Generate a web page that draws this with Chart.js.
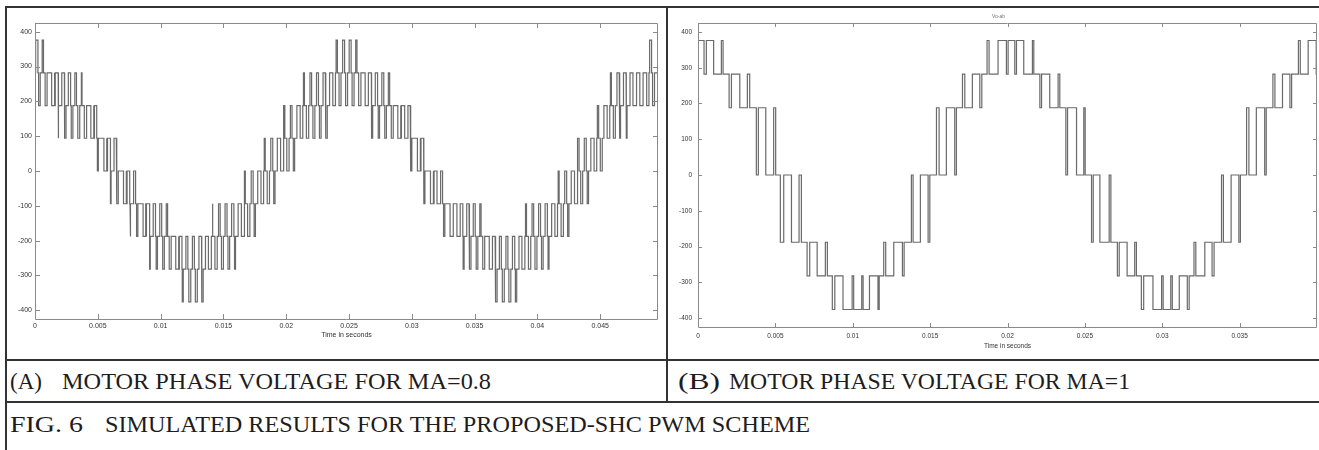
<!DOCTYPE html>
<html>
<head>
<meta charset="utf-8">
<script src="https://cdn.jsdelivr.net/npm/chart.js@4.4.0/dist/chart.umd.min.js"></script>
<style>
html,body{margin:0;padding:0;background:#fff;}
body{width:1319px;height:450px;position:relative;overflow:hidden;}
.ln{position:absolute;background:#333;}
.cap{position:absolute;white-space:nowrap;font-family:"Liberation Serif","Times New Roman",serif;font-size:24px;line-height:1;color:#1e1c1d;transform-origin:0 50%;}
#cA{position:absolute;left:0;top:0;}
#cB{position:absolute;left:668px;top:0;}
#tB{position:absolute;left:992px;top:13px;font-family:"Liberation Sans",Arial,sans-serif;font-size:5px;color:#777;white-space:nowrap;}
</style>
</head>
<body>
<canvas id="cA" width="666" height="356"></canvas>
<canvas id="cB" width="651" height="360"></canvas>
<div id="tB">Vo-ab</div>

<div class="ln" style="left:5px;top:6px;width:1314px;height:2px;"></div>
<div class="ln" style="left:5px;top:6px;width:2px;height:444px;"></div>
<div class="ln" style="left:666px;top:6px;width:2px;height:396px;"></div>
<div class="ln" style="left:5px;top:359px;width:1314px;height:2px;"></div>
<div class="ln" style="left:5px;top:401px;width:1314px;height:2px;"></div>

<div class="cap" data-x="10" data-w="32" data-cy="381">(A)</div>
<div class="cap" data-x="62" data-w="429" data-cy="381">MOTOR PHASE VOLTAGE FOR MA=0.8</div>
<div class="cap" data-x="678" data-w="42" data-cy="381">(B)</div>
<div class="cap" data-x="729" data-w="401" data-cy="381">MOTOR PHASE VOLTAGE FOR MA=1</div>
<div class="cap" data-x="10" data-w="73" data-cy="424">FIG. 6</div>
<div class="cap" data-x="105" data-w="705" data-cy="424">SIMULATED RESULTS FOR THE PROPOSED-SHC PWM SCHEME</div>

<script>
// ---------- tick labels ----------
const aXTickVals = [0, 0.005, 0.01, 0.015, 0.02, 0.025, 0.03, 0.035, 0.04, 0.045];
const aXTickLabels = ['0', '0.005', '0.01', '0.015', '0.02', '0.025', '0.03', '0.035', '0.04', '0.045'];
const bXTickVals = [0, 0.005, 0.01, 0.015, 0.02, 0.025, 0.03, 0.035];
const bXTickLabels = ['0', '0.005', '0.01', '0.015', '0.02', '0.025', '0.03', '0.035'];
const yTickVals = [-400, -300, -200, -100, 0, 100, 200, 300, 400];
const yTickLabels = ['-400', '-300', '-200', '-100', '0', '100', '200', '300', '400'];

// ---------- voltage level step (V) ----------
const levelStepV = 94;

// ---------- panel A (MA = 0.8): per carrier slot ----------
const aCarrierMs = 0.52;
// mid level of each slot (in steps of 94 V)
const aMid = [
  3, 3, 3, 2, 2, 2, 2, 2, 2, 1,
  1, 0, 0, 0, -1, -1, -1, -2, -2, -2,
  -2, -2, -3, -3, -3, -3, -3, -2, -2, -2,
  -2, -2, -1, -1, -1, 0, 0, 0, 1, 1,
  1, 2, 2, 2, 2, 2, 3, 3, 3, 3,
  3, 2, 2, 2, 2, 2, 1, 1, 1, 0,
  0, -1, -1, -1, -2, -2, -2, -2, -2, -2,
  -3, -3, -3, -3, -3, -2, -2, -2, -2, -2,
  -1, -1, -1, 0, 0, 0, 1, 1, 2, 2,
  2, 2, 2, 2, 3, 3
];
// width (fraction of slot) of the pulse one level up
const aUp = [
  .35, .2, 0, .45, .4, .35, .25, .1, 0, .35,
  0, .45, .35, 0, .4, .3, 0, .45, .35, .3,
  .2, 0, .4, .3, .3, .4, .45, .15, .25, .3,
  .35, .5, .1, .3, .5, .15, .3, .5, .15, .25,
  .5, .15, .25, .3, .35, .5, .2, .3, .3, .2,
  0, .4, .35, .3, .2, 0, .5, .35, 0, .4,
  0, .45, .3, 0, .5, .4, .35, .3, .2, 0,
  .35, .3, .3, .35, .45, .15, .25, .3, .35, .5,
  .15, .3, .5, .2, .3, .5, .2, .5, .15, .35,
  .4, .45, .5, .55, .3, 0
];
// width (fraction of slot) of the pulse one level down
const aDown = [
  .25, .3, .45, .1, .2, .25, .3, .35, .45, .15,
  .4, .1, .2, .4, .1, .2, .4, .1, .2, .25,
  .3, .45, .15, .3, .3, .2, 0, .35, .3, .25,
  .15, 0, .35, .2, 0, .35, .2, 0, .35, .2,
  0, .35, .3, .25, .2, 0, .3, .3, .3, .35,
  .45, .15, .2, .25, .3, .45, 0, .15, .45, .15,
  .45, 0, .2, .45, 0, .15, .2, .25, .3, .45,
  .2, .3, .3, .2, 0, .35, .3, .25, .15, 0,
  .35, .2, 0, .3, .2, 0, .3, 0, .3, .1,
  .1, 0, 0, 0, .3, .4
];

// ---------- panel B (MA = 1): switching instants (ms) and new level ----------
const bTimesMs = [
  0, 0.39, 0.54, 1.01, 1.51, 1.62, 2.01, 2.16, 2.70, 3.19,
  3.34, 3.77, 3.90, 4.38, 4.89, 5.02, 5.32, 5.54, 6.04, 6.53,
  6.68, 7.05, 7.22, 7.70, 8.23, 8.36, 8.68, 8.84, 9.37, 9.96,
  10.06, 10.58, 10.67, 11.08, 11.63, 11.71, 12.00, 12.13, 12.65, 13.21,
  13.32, 13.79, 13.90, 14.37, 14.87, 14.98, 15.41, 15.58, 16.05, 16.59,
  16.70, 17.09, 17.24, 17.73, 18.21, 18.34, 18.68, 18.81, 19.39, 19.93,
  20.04, 20.47, 20.58, 21.05, 21.61, 21.70, 22.09, 22.20, 22.73, 23.27,
  23.38, 23.77, 23.88, 24.46, 24.93, 25.02, 25.43, 25.54, 25.97, 26.57,
  26.68, 27.10, 27.22, 27.73, 28.22, 28.33, 28.65, 28.80, 29.40, 29.96,
  30.06, 30.55, 30.65, 31.10, 31.62, 31.74, 32.05, 32.17, 32.75, 33.22,
  33.35, 33.83, 33.95, 34.45, 34.95, 35.05, 35.45, 35.60, 36.08, 36.62,
  36.72, 37.15, 37.28, 37.77, 38.25, 38.36, 38.80, 38.92, 39.43, 39.95
];
const bLevels = [
  4, 3, 4, 3, 4, 3, 2, 3, 2, 3,
  2, 0, 2, 0, 2, 0, -2, 0, -2, 0,
  -2, -3, -2, -3, -2, -3, -4, -3, -4, -3,
  -4, -3, -4, -3, -4, -3, -2, -3, -2, -3,
  -2, 0, -2, 0, -2, 0, 2, 0, 2, 0,
  2, 3, 2, 3, 2, 3, 4, 3, 4, 3,
  4, 3, 4, 3, 4, 3, 2, 3, 2, 3,
  2, 0, 2, 0, 2, 0, -2, 0, -2, 0,
  -2, -3, -2, -3, -2, -3, -4, -3, -4, -3,
  -4, -3, -4, -3, -4, -3, -2, -3, -2, -3,
  -2, 0, -2, 0, -2, 0, 2, 0, 2, 0,
  2, 3, 2, 3, 2, 3, 4, 3, 4, 3
];

// ---------- build point lists from the arrays ----------
function makeStepper() {
  const pts = [];
  let cur = null;
  return {
    pts,
    go(tms, lvl) {
      const x = tms / 1000;
      if (cur === null) { pts.push({x, y: lvl * levelStepV}); cur = lvl; return; }
      if (lvl === cur) return;
      pts.push({x, y: cur * levelStepV});
      pts.push({x, y: lvl * levelStepV});
      cur = lvl;
    },
    end(tms) { pts.push({x: tms / 1000, y: cur * levelStepV}); }
  };
}
function buildA() {
  const s = makeStepper();
  const T = aCarrierMs;
  for (let k = 0; k < aMid.length; k++) {
    const t0 = k * T, m = aMid[k];
    s.go(t0, m);
    if (aUp[k] > 0) { s.go(t0 + 0.1 * T, m + 1); s.go(t0 + (0.1 + aUp[k]) * T, m); }
    if (aDown[k] > 0) { s.go(t0 + 0.55 * T, m - 1); s.go(t0 + (0.55 + aDown[k]) * T, m); }
  }
  s.end(aMid.length * T);
  return s.pts;
}
function buildB() {
  const s = makeStepper();
  for (let i = 0; i < bTimesMs.length; i++) s.go(bTimesMs[i], bLevels[i]);
  s.end(40.2);
  return s.pts;
}

// ---------- plot box with inward ticks (MATLAB style) ----------
const boxTicks = {
  id: 'boxTicks',
  afterDatasetsDraw(chart, args, opts) {
    const {ctx, chartArea: {left, right, top, bottom}, scales: {x, y}} = chart;
    const L = opts.len || 5;
    ctx.save();
    ctx.strokeStyle = '#8a8a8a';
    ctx.lineWidth = 1;
    ctx.beginPath();
    ctx.rect(Math.round(left) + 0.5, Math.round(top) + 0.5, Math.round(right - left) - 1, Math.round(bottom - top));
    x.ticks.forEach(t => {
      const px = Math.round(x.getPixelForValue(t.value)) + 0.5;
      ctx.moveTo(px, bottom); ctx.lineTo(px, bottom - L);
      ctx.moveTo(px, top); ctx.lineTo(px, top + L);
    });
    y.ticks.forEach(t => {
      const py = Math.round(y.getPixelForValue(t.value)) + 0.5;
      ctx.moveTo(left, py); ctx.lineTo(left + L, py);
      ctx.moveTo(right, py); ctx.lineTo(right - L, py);
    });
    ctx.stroke();
    ctx.restore();
  }
};

function makeChart(canvas, pts, o) {
  return new Chart(canvas, {
    type: 'line',
    data: {datasets: [{data: pts, borderColor: '#6a6a6a', borderWidth: 1.2, pointRadius: 0, tension: 0, fill: false}]},
    options: {
      responsive: false, animation: false, events: [],
      parsing: false, normalized: true,
      layout: {padding: {left: 0, top: o.padTop, right: o.padRight, bottom: o.padBottom}},
      plugins: {legend: {display: false}, tooltip: {enabled: false}, boxTicks: {len: o.tickLen}},
      scales: {
        x: {
          type: 'linear', min: 0, max: o.xmax,
          afterBuildTicks: s => { s.ticks = o.xVals.map(v => ({value: v})); },
          afterFit: s => { s.height = o.xH; },
          grid: {display: false, drawTicks: false},
          border: {display: false},
          ticks: {padding: o.xPad, autoSkip: false, maxRotation: 0, color: '#333',
                  font: {family: 'Liberation Sans', size: o.fs},
                  callback: (v, i) => o.xLabels[i]},
          title: {display: true, text: 'Time in seconds', color: '#333', padding: 0,
                  font: {family: 'Liberation Sans', size: o.fs}}
        },
        y: {
          type: 'linear', min: -425, max: 425,
          afterBuildTicks: s => { s.ticks = yTickVals.map(v => ({value: v})); },
          afterFit: s => { s.width = o.yW; },
          grid: {display: false, drawTicks: false},
          border: {display: false},
          ticks: {padding: o.yPad, autoSkip: false, color: '#333',
                  font: {family: 'Liberation Sans', size: o.fs},
                  callback: (v, i) => yTickLabels[i]}
        }
      }
    },
    plugins: [boxTicks]
  });
}

makeChart(document.getElementById('cA'), buildA(), {
  xmax: 0.0496, xVals: aXTickVals, xLabels: aXTickLabels,
  padTop: 23, padRight: 8, padBottom: 17, xH: 20, yW: 35, xPad: 3, yPad: 3, fs: 7, tickLen: 5
});
makeChart(document.getElementById('cB'), buildB(), {
  xmax: 0.04, xVals: bXTickVals, xLabels: bXTickLabels,
  padTop: 23, padRight: 2, padBottom: 10, xH: 23, yW: 30, xPad: 5, yPad: 6, fs: 6.5, tickLen: 4
});

// ---------- caption placement ----------
document.querySelectorAll('.cap').forEach(el => {
  const x = +el.dataset.x, w = +el.dataset.w, cy = +el.dataset.cy;
  const r = el.getBoundingClientRect();
  el.style.left = x + 'px';
  el.style.top = (cy - r.height / 2) + 'px';
  el.style.transform = 'scaleX(' + (w / r.width) + ')';
});
</script>
</body>
</html>
